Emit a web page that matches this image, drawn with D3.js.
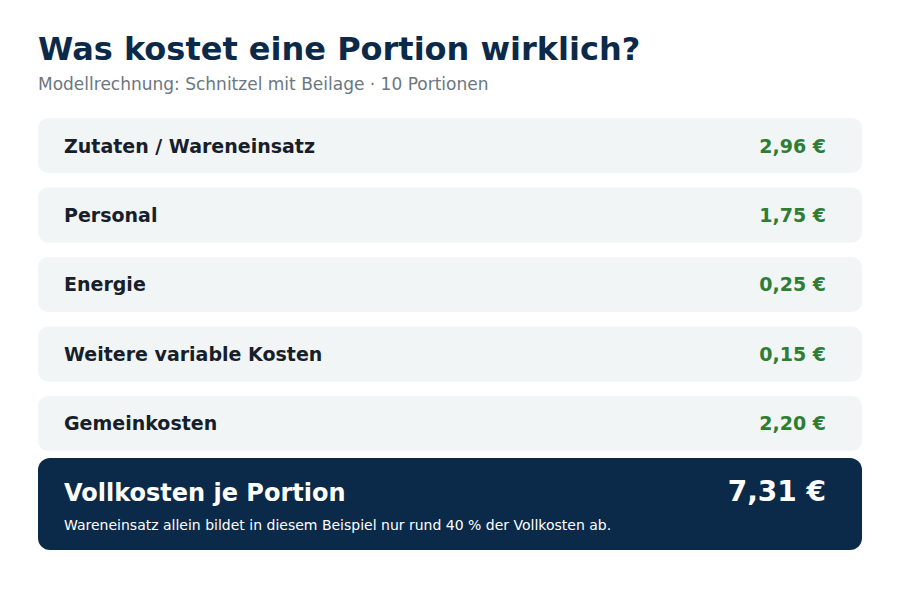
<!DOCTYPE html>
<html><head><meta charset="utf-8">
<script src="https://cdn.jsdelivr.net/npm/d3@7"></script>
<style>body{margin:0;background:#fff}svg{font-family:"DejaVu Sans",sans-serif}</style>
</head><body><svg id="chart" width="900" height="600"></svg>
<script>
// Kostenpositionen je Portion
var categories = ["Zutaten / Wareneinsatz", "Personal", "Energie", "Weitere variable Kosten", "Gemeinkosten"];
var values = [2.96, 1.75, 0.25, 0.15, 2.20];
var totalLabel = "Vollkosten je Portion";
var totalValue = 7.31;
var note = "Wareneinsatz allein bildet in diesem Beispiel nur rund 40 % der Vollkosten ab.";

var fmt = function (v) { return v.toFixed(2).replace(".", ",") + " €"; };
var svg = d3.select("#chart");

svg.append("text").attr("x", 38).attr("y", 60).attr("font-size", 32).attr("font-weight", "bold")
    .attr("fill", "#0b2a4a").text("Was kostet eine Portion wirklich?");
svg.append("text").attr("x", 38).attr("y", 90).attr("font-size", 17).attr("fill", "#6b7680")
    .text("Modellrechnung: Schnitzel mit Beilage · 10 Portionen");

var y = d3.scaleBand().domain(categories).range([118, 453]).paddingInner(12 / 67).paddingOuter(0).align(0);
var rowH = 55;

var rows = svg.selectAll("g.row").data(categories).enter().append("g").attr("class", "row")
    .attr("transform", function (d) { return "translate(0," + y(d) + ")"; });
rows.append("rect").attr("x", 38).attr("width", 824).attr("height", rowH).attr("rx", 10).attr("fill", "#f1f5f6");
rows.append("text").attr("x", 64).attr("y", rowH / 2 + 7).attr("font-size", 19).attr("font-weight", "bold")
    .attr("fill", "#17202a").text(function (d) { return d; });
rows.append("text").attr("x", 826).attr("y", rowH / 2 + 7).attr("text-anchor", "end").attr("font-size", 19)
    .attr("font-weight", "bold").attr("fill", "#2e7d32").text(function (d, i) { return fmt(values[i]); });

var g = svg.append("g");
g.append("rect").attr("x", 38).attr("y", 458).attr("width", 824).attr("height", 92).attr("rx", 12).attr("fill", "#0b2a4a");
g.append("text").attr("x", 64).attr("y", 501).attr("font-size", 24).attr("font-weight", "bold").attr("fill", "#fff").text(totalLabel);
g.append("text").attr("x", 826).attr("y", 501).attr("text-anchor", "end").attr("font-size", 28).attr("font-weight", "bold")
    .attr("fill", "#fff").text(fmt(totalValue));
g.append("text").attr("x", 64).attr("y", 530).attr("font-size", 14).attr("fill", "#fff").text(note);
</script></body></html>
